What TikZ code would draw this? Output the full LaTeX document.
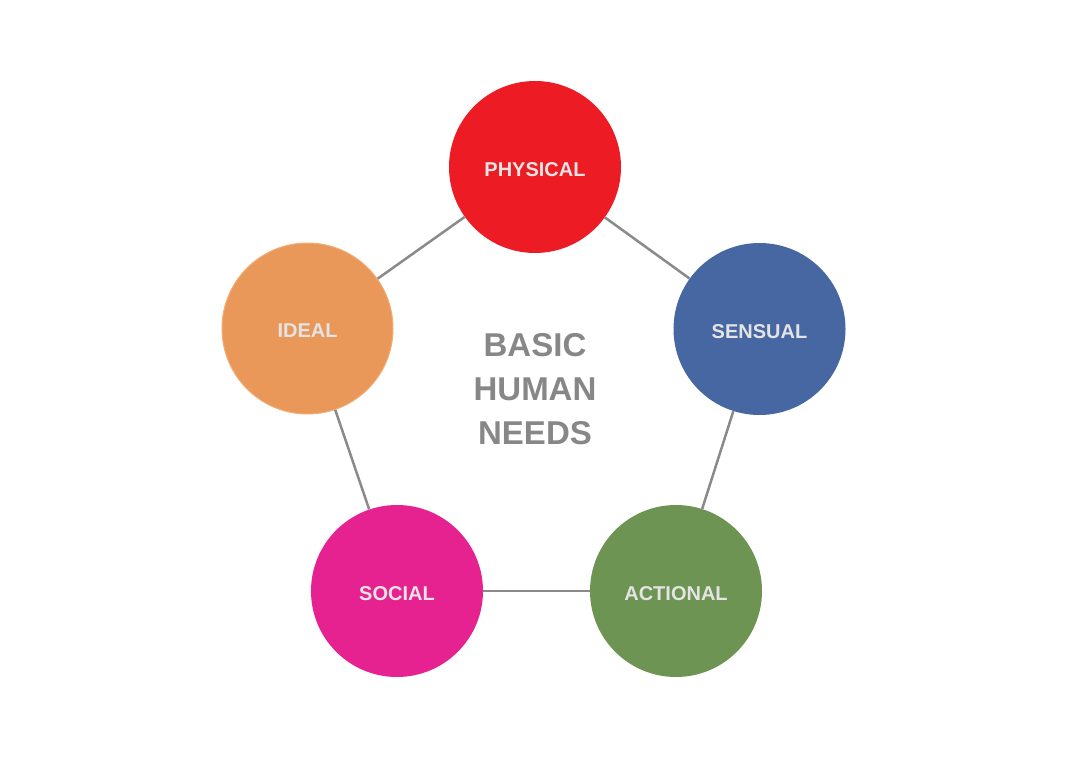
\documentclass[tikz,border=0pt]{standalone}
\usepackage{fontspec}
\setmainfont{Liberation Sans}
\definecolor{cred}{HTML}{ED1C24}
\definecolor{cblue}{HTML}{4767A2}
\definecolor{cgreen}{HTML}{6D9452}
\definecolor{cmag}{HTML}{E62290}
\definecolor{corange}{HTML}{E9985A}
\definecolor{corangeedge}{HTML}{F2AE75}
\definecolor{clink}{HTML}{8A8A8A}
\definecolor{clabel}{HTML}{E4E4E4}
\definecolor{ccenter}{HTML}{878787}
\begin{document}
\begin{tikzpicture}[x=1pt,y=-1pt,
  need/.style={circle,minimum size=172pt,inner sep=0pt,text=clabel,font=\bfseries\fontsize{20}{24}\selectfont,text height=18pt,text depth=0pt},
  link/.style={draw=clink,line width=2.5pt}]
\useasboundingbox (0,0) rectangle (1070,757);
\node[need,fill=cred] (phys) at (535,167) {PHYSICAL};
\node[need,fill=cblue] (sens) at (759.5,329) {SENSUAL};
\node[need,fill=cgreen] (act) at (676,591) {ACTIONAL};
\node[need,fill=cmag] (soc) at (397,591) {SOCIAL};
\node[need,fill=corange,draw=corangeedge,line width=1pt,minimum size=171pt] (ideal) at (307.5,328.5) {IDEAL};
\node[align=center,text=ccenter,font=\bfseries\fontsize{33}{44}\selectfont] (title) at (535,389) {BASIC\\HUMAN\\NEEDS};
\draw[link] (phys) -- (sens);
\draw[link] (sens) -- (act);
\draw[link] (act) -- (soc);
\draw[link] (soc) -- (ideal);
\draw[link] (ideal) -- (phys);
\end{tikzpicture}
\end{document}
